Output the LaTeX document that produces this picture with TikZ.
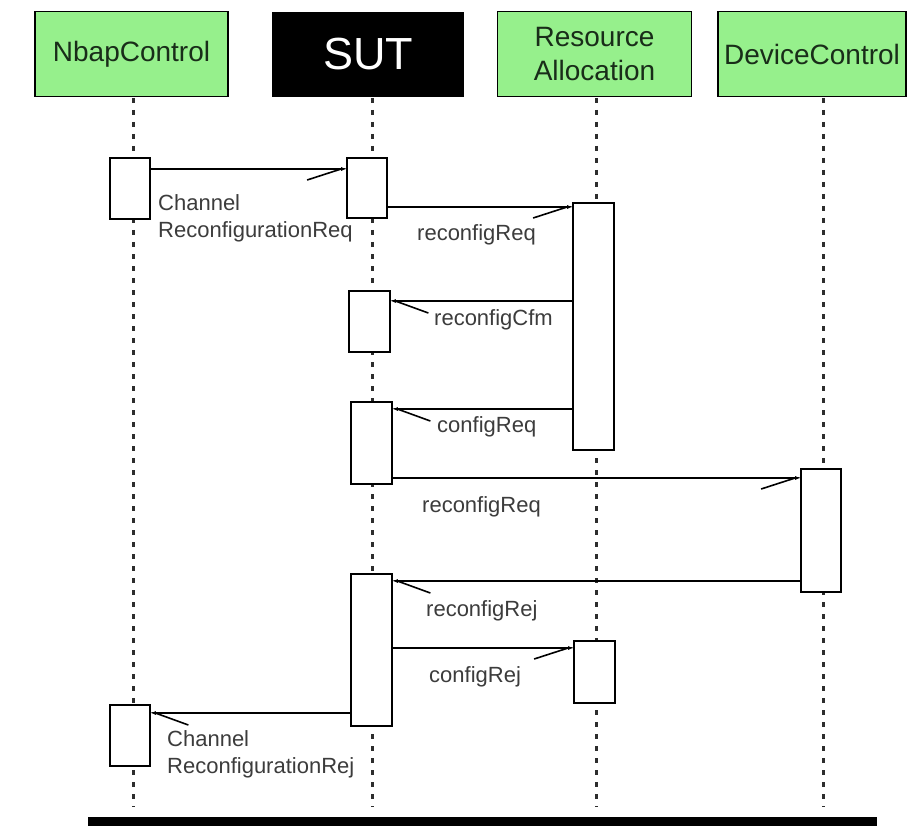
\documentclass[tikz,border=0pt]{standalone}
\usepackage{fontspec}
\setmainfont{Liberation Sans}
\usetikzlibrary{arrows.meta}
\definecolor{actorgreen}{RGB}{150,240,140}
\definecolor{actortext}{RGB}{25,45,25}
\definecolor{labelgray}{RGB}{60,60,60}
\definecolor{lifegray}{RGB}{45,45,45}
\begin{document}
\begin{tikzpicture}[x=1pt,y=-1pt,
  actor/.style={draw=black,line width=1.6pt,fill=actorgreen,text=actortext,
    minimum height=85pt,minimum width=#1,inner sep=0pt,align=center,
    font=\fontsize{28}{34}\selectfont},
  sutbox/.style={fill=black,text=white,minimum height=85pt,minimum width=#1,
    inner sep=0pt,font=\fontsize{45}{50}\selectfont},
  lifeline/.style={draw=lifegray,line width=3pt,dash pattern=on 5pt off 7pt},
  activation/.style={draw=black,line width=1.6pt,fill=white,inner sep=0pt,
    minimum width=#1},
  msgright/.style={draw=black,line width=1.6pt,
    -{Straight Barb[harpoon,swap,length=34pt,width=22pt,line width=1.6pt]},
    postaction={draw,-{Latex[length=5pt,width=4pt]}}},
  msgleft/.style={draw=black,line width=1.6pt,
    -{Straight Barb[harpoon,length=33pt,width=24pt,line width=1.6pt]},
    postaction={draw,-{Latex[length=5pt,width=4pt]}}},
  msglabel/.style={text=labelgray,inner sep=0pt,align=left,
    font=\fontsize{22}{27}\selectfont},
]
\useasboundingbox[fill=white] (0,0) rectangle (912,826);

% participant headers
\node[actor=193pt] (nbap) at (131.5,54) {NbapControl};
\node[sutbox=192pt] (sut) at (368,54.5) {SUT};
\node[actor=194pt] (res) at (594.5,54) {Resource\\Allocation};
\node[actor=188pt] (dev) at (812,54) {DeviceControl};

% lifelines
\coordinate (nbapTop) at (133,98);
\coordinate (nbapEnd) at (133,807);
\coordinate (sutTop) at (372,98);
\coordinate (sutEnd) at (372,807);
\coordinate (resTop) at (596,98);
\coordinate (resEnd) at (596,807);
\coordinate (devTop) at (823,98);
\coordinate (devEnd) at (823,807);
\draw[lifeline] (nbapTop) -- (nbapEnd);
\draw[lifeline] (sutTop) -- (sutEnd);
\draw[lifeline] (resTop) -- (resEnd);
\draw[lifeline] (devTop) -- (devEnd);

% activation bars
\node[activation=40pt,minimum height=61pt] (na1) at (130,188.5) {};
\node[activation=40pt,minimum height=60pt] (sa1) at (367,188) {};
\node[activation=41pt,minimum height=247pt] (ra1) at (593.5,326.5) {};
\node[activation=41pt,minimum height=61pt] (sa2) at (369.5,321.5) {};
\node[activation=41pt,minimum height=82pt] (sa3) at (371.5,443) {};
\node[activation=40pt,minimum height=123pt] (da1) at (821,530.5) {};
\node[activation=41pt,minimum height=152pt] (sa4) at (371.5,650) {};
\node[activation=41pt,minimum height=62pt] (ra2) at (594.5,672) {};
\node[activation=40pt,minimum height=61pt] (na2) at (130,735.5) {};

% messages
\draw[msgright] (na1.east |- 0,169) -- (sa1.west |- 0,169);
\draw[msgright] (sa1.east |- 0,207) -- (ra1.west |- 0,207);
\draw[msgleft] (ra1.west |- 0,301) -- (sa2.east |- 0,301);
\draw[msgleft] (ra1.west |- 0,409) -- (sa3.east |- 0,409);
\draw[msgright] (sa3.east |- 0,478) -- (da1.west |- 0,478);
\draw[msgleft] (da1.west |- 0,581) -- (sa4.east |- 0,581);
\draw[msgright] (sa4.east |- 0,648) -- (ra2.west |- 0,648);
\draw[msgleft] (sa4.west |- 0,713) -- (na2.east |- 0,713);

% message labels
\node[msglabel,anchor=west] (l1) at (158,218) {Channel\\ReconfigurationReq};
\node[msglabel,anchor=west] (l2) at (417,235) {reconfigReq};
\node[msglabel,anchor=west] (l3) at (434,320) {reconfigCfm};
\node[msglabel,anchor=west] (l4) at (437,427) {configReq};
\node[msglabel,anchor=west] (l5) at (422,507) {reconfigReq};
\node[msglabel,anchor=west] (l6) at (426,611) {reconfigRej};
\node[msglabel,anchor=west] (l7) at (429,677) {configRej};
\node[msglabel,anchor=west] (l8) at (167,754) {Channel\\ReconfigurationRej};

% closing bar
\fill[black] (88,817) rectangle (877,826);
\end{tikzpicture}
\end{document}
